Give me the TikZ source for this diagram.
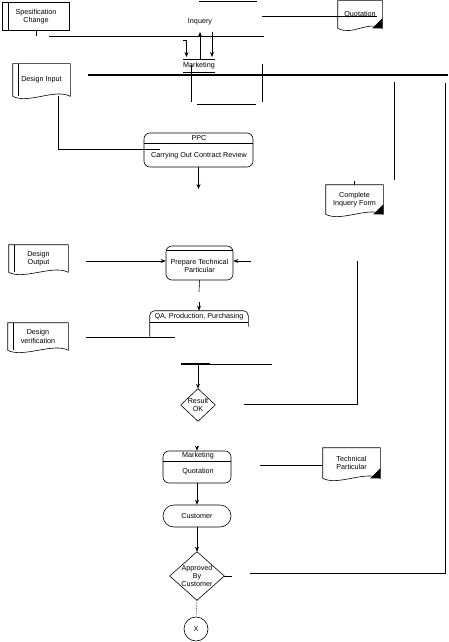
\documentclass[tikz,border=0pt]{standalone}
\usepackage{fontspec}
\setmainfont{Liberation Sans}
\usepackage{tikz}
\usetikzlibrary{arrows.meta}
\tikzset{>={Stealth[length=5pt,width=4pt]}}
\tikzset{%
    txt/.style={font=\fontsize{7.2}{8.4}\selectfont, inner sep=0pt, align=center},
    docbox/.style={txt, rectangle, draw=none},
    procbox/.style={txt, rectangle, draw, rounded corners=6pt},
    termbox/.style={txt, rectangle, draw, rounded corners=11pt},
    decbox/.style={txt, rectangle, draw=none}
}
% document with a stripe on the left
\newcommand{\docframe}[1]{%
    \draw (#1.south west) -- (#1.north west) -- (#1.north east) -- (#1.south east)
        .. controls +(-15pt,8pt) and +(15pt,-8pt) .. (#1.south west);
    \draw ([xshift=6pt]#1.north west) -- ([xshift=6pt]#1.south west);}
% document with a black corner
\newcommand{\pageframe}[1]{%
    \draw (#1.south west) -- (#1.north west) -- (#1.north east) -- (#1.south east)
        .. controls +(-15pt,8pt) and +(15pt,-8pt) .. (#1.south west);
    \fill ([yshift=10pt]#1.south east) -- (#1.south east) -- ([xshift=-10pt]#1.south east) -- cycle;}
% diamond through the anchors of a node
\newcommand{\decframe}[1]{%
    \draw (#1.north) -- (#1.east) -- (#1.south) -- (#1.west) -- cycle;}

\begin{document}
\begin{tikzpicture}[x=1pt,y=-1pt,line width=0.6pt]
\useasboundingbox[fill=white] (0,0) rectangle (448,642);

% documents on the left
\node[docbox, minimum width=66pt, minimum height=27pt] (spec) at (36,16.5) {Spesification\\Change};
\draw (spec.south west) rectangle (spec.north east);
\draw ([xshift=6pt]spec.north west) -- ([xshift=6pt]spec.south west);
\node[docbox, minimum width=57pt, minimum height=32pt] (din) at (41.5,80) {Design Input};
\docframe{din}
\node[docbox, minimum width=59pt, minimum height=27pt] (dout) at (38.5,258.5) {Design\\Output};
\docframe{dout}
\node[docbox, minimum width=60pt, minimum height=27pt] (dver) at (38,336.5) {Design\\verification};
\docframe{dver}

% documents on the right
\node[docbox, minimum width=44pt, minimum height=27pt] (quot) at (360,14.5) {Quotation};
\pageframe{quot}
\node[docbox, minimum width=57pt, minimum height=29pt] (cif) at (354.5,199.5) {Complete\\Inquery Form};
\pageframe{cif}
\node[docbox, minimum width=57pt, minimum height=30pt] (tpart) at (351.5,463) {Technical\\Particular};
\pageframe{tpart}

% inquery and marketing
\node[txt] (inq) at (200,22) {Inquery};
\node[txt] (mkt) at (199,65.5) {Marketing};
\coordinate (inqtopL) at (199,1);
\coordinate (inqtopR) at (257,1);
\draw (inqtopL) -- (inqtopR);
\coordinate (inqL) at (49,36);
\coordinate (inqR) at (264,36);
\draw (spec.south) -- ++(0,6);
\draw (inqL) -- (inqR);
\coordinate (quotL) at (262,16);
\coordinate (quotR) at (377,16);
\draw (quotL) -- (quotR);
\coordinate (mktTL) at (183,59);
\coordinate (mktTR) at (215,59);
\coordinate (mktBL) at (183,72);
\coordinate (mktBR) at (215,72);
\draw (mktTL) -- (mktTR);
\draw (mktBL) -- (mktBR);
\coordinate (hook) at (183,40);
\coordinate (arrA) at (186.5,57);
\draw[->] (hook) -| (arrA);
\coordinate (arrBlo) at (200,59);
\coordinate (arrBhi) at (200,32);
\draw[->] (arrBlo) -- (arrBhi);
\coordinate (arrChi) at (212,32);
\coordinate (arrClo) at (212,57);
\draw[->] (arrChi) -- (arrClo);

% main bar and the lines under it
\coordinate (barL) at (88,75);
\coordinate (barR) at (448,75);
\draw[line width=1.6pt] (barL) -- (barR);
\draw (191,65) -- (191,102);
\draw (262,64) -- (262,102);
\draw (197,104) -- (256,104);
\draw (394,82) -- (394,180);
\coordinate (edgeT) at (445.5,83);
\coordinate (edgeB) at (445.5,573);
\draw (edgeT) -- (edgeB);

% contract review
\node[procbox, minimum width=109pt, minimum height=34pt] (ppc) at (198.5,150) {};
\draw ([yshift=-11pt]ppc.north west) -- ([yshift=-11pt]ppc.north east);
\node[txt] (ppchd) at (199,138.5) {PPC};
\node[txt] (ppcbd) at (199,155.5) {Carrying Out Contract Review};
\coordinate (ppcin) at (160,149);
\draw ([xshift=16.5pt]din.south) |- (ppcin);
\coordinate (ppcout) at (198.5,189);
\draw[->] (ppc.south) -- (ppcout);
\draw (cif.north) -- ++(0,-4);

% technical particular
\node[procbox, minimum width=67pt, minimum height=34pt] (prep) at (199.5,263) {};
\draw ([yshift=-5pt]prep.north west) -- ([yshift=-5pt]prep.north east);
\node[txt] (prepbd) at (199.5,266) {Prepare Technical\\Particular};
\coordinate (doutL) at (86,261);
\draw[->] (doutL) -- (doutL -| prep.west);
\coordinate (prepR) at (251,261);
\draw[->] (prepR) -- (prepR -| prep.east);
\coordinate (prepout) at (199,292);
\draw (prep.south) -- (prepout);

% QA, production, purchasing
\node[txt, minimum width=98pt, minimum height=11pt] (qa) at (199,316.5) {QA, Production, Purchasing};
\draw[rounded corners=5pt] ([yshift=-26pt]qa.north west) -- (qa.north west) -- (qa.north east) -- ([yshift=-16pt]qa.north east);
\draw (qa.south west) -- (qa.south east);
\coordinate (qain) at (199,302);
\draw[->] (qain) -- (qa.north);
\coordinate (dverL) at (86,337);
\coordinate (dverR) at (175,337);
\draw (dverL) -- (dverR);

% result OK
\coordinate (joinL) at (181,364);
\coordinate (joinM) at (210,364);
\coordinate (joinR) at (272,364);
\draw[line width=1.2pt] (joinL) -- (joinM);
\draw (joinM) -- (joinR);
\node[decbox, minimum width=34pt, minimum height=32pt] (rok) at (198,405) {Result\\OK};
\decframe{rok}
\draw[->] (rok.north |- joinL) -- (rok.north);
\coordinate (rokR) at (244,404);
\coordinate (backT) at (357,261);
\draw (rokR) -| (backT);

% quotation to customer
\node[procbox, minimum width=68pt, minimum height=32pt] (mq) at (197,467) {};
\draw ([yshift=-11pt]mq.north west) -- ([yshift=-11pt]mq.north east);
\node[txt] (mqhd) at (198,456) {Marketing};
\node[txt] (mqbd) at (198,472) {Quotation};
\coordinate (mqin) at (197,446);
\draw[->] (mqin) -- (mq.north);
\coordinate (tpartL) at (260,465);
\draw (tpartL) -- (tpartL -| tpart.west);
\node[termbox, minimum width=68pt, minimum height=22pt] (cust) at (197,516) {Customer};
\draw[->] (mq.south) -- (cust.north);
\node[decbox, minimum width=54pt, minimum height=48pt] (appr) at (197,576) {Approved\\By\\Customer};
\decframe{appr}
\draw[->] (cust.south) -- (appr.north);
\draw (appr.east) -- ++(8,0);
\coordinate (apprR) at (250,573);
\draw (apprR) -- (edgeB);
\node[txt, circle, draw, minimum size=24pt] (xend) at (196,629) {X};
\draw[densely dotted] (appr.south) -- (xend.north);
\end{tikzpicture}
\end{document}
